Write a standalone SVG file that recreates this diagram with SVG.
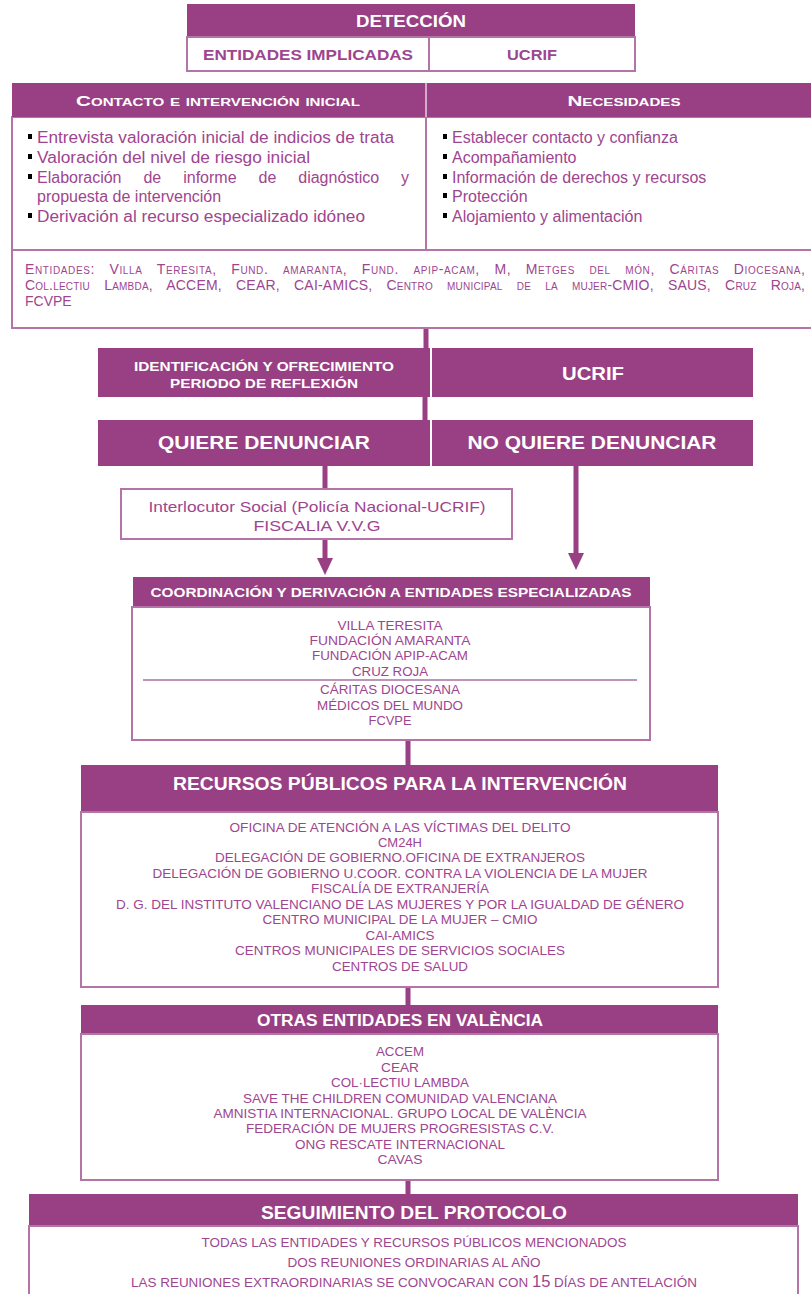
<svg xmlns="http://www.w3.org/2000/svg" width="811" height="1294" viewBox="0 0 811 1294">
<defs>
<style>
.hd{fill:#993F84}
.bx{fill:#fff;stroke:#B574A8;stroke-width:2}
.wt{fill:#fff;font-family:"Liberation Sans Narrow","Liberation Sans",Arial,sans-serif;font-weight:bold;text-anchor:middle}
.pt{fill:#9E4590;font-family:"Liberation Sans Narrow","Liberation Sans",Arial,sans-serif;text-anchor:middle}
.pb{fill:#9E4590;font-family:"Liberation Sans",Arial,sans-serif;font-size:16px}
.sc{fill:#9E4590;font-family:"Liberation Sans",Arial,sans-serif;font-size:14px;font-variant:small-caps;word-spacing:10px}
.cn{stroke:#993F84;stroke-width:5;fill:none}
.bl{fill:#000}
</style>
</defs>

<g id="connectors">
<line class="cn" x1="426" y1="328" x2="426" y2="348"/>
<line class="cn" x1="425" y1="397" x2="425" y2="420"/>
<line class="cn" x1="325" y1="466" x2="325" y2="489"/>
<line class="cn" x1="325" y1="539" x2="325" y2="560"/>
<path d="M317,558 L333,558 L325,575 Z" fill="#993F84"/>
<line class="cn" x1="576" y1="466" x2="576" y2="555"/>
<path d="M568,553 L584,553 L576,570 Z" fill="#993F84"/>
<line class="cn" x1="408" y1="740" x2="408" y2="765"/>
<line class="cn" x1="408" y1="987" x2="408" y2="1005"/>
<line class="cn" x1="408" y1="1180" x2="408" y2="1194"/>
</g>

<g id="deteccion">
<rect class="hd" x="187" y="4" width="448" height="33"/>
<text class="wt" x="411" y="27" font-size="17" textLength="110" lengthAdjust="spacingAndGlyphs">DETECCIÓN</text>
<rect class="bx" x="187" y="37" width="242" height="34"/>
<rect class="bx" x="429" y="37" width="206" height="34"/>
<text class="pt" x="308" y="60" font-size="15" font-weight="bold" textLength="210" lengthAdjust="spacingAndGlyphs">ENTIDADES IMPLICADAS</text>
<text class="pt" x="532" y="60" font-size="15" font-weight="bold" textLength="50" lengthAdjust="spacingAndGlyphs">UCRIF</text>
</g>

<g id="contacto">
<rect class="bx" x="12" y="117" width="802" height="211"/>
<line x1="426" y1="117" x2="426" y2="250" stroke="#B574A8" stroke-width="2"/>
<line x1="12" y1="250" x2="812" y2="250" stroke="#B574A8" stroke-width="2"/>
<rect class="hd" x="12" y="83" width="802" height="34"/>
<line x1="426" y1="83" x2="426" y2="117" stroke="#E8D0E2" stroke-width="1.5"/>
<text class="wt" x="218" y="106" font-size="15" font-variant="small-caps" textLength="284" lengthAdjust="spacingAndGlyphs">Contacto e intervención inicial</text>
<text class="wt" x="624" y="106" font-size="15" font-variant="small-caps" textLength="113" lengthAdjust="spacingAndGlyphs">Necesidades</text>

<rect class="bl" x="28" y="134" width="4" height="5"/>
<rect class="bl" x="28" y="154" width="4" height="5"/>
<rect class="bl" x="28" y="174" width="4" height="5"/>
<rect class="bl" x="28" y="213" width="4" height="5"/>
<text class="pb" x="37" y="142.5" textLength="357" lengthAdjust="spacingAndGlyphs">Entrevista valoración inicial de indicios de trata</text>
<text class="pb" x="37" y="162.5" textLength="273" lengthAdjust="spacingAndGlyphs">Valoración del nivel de riesgo inicial</text>
<text class="pb" x="37" y="182.5" word-spacing="17.5">Elaboración de informe de diagnóstico y</text>
<text class="pb" x="37" y="201.5">propuesta de intervención</text>
<text class="pb" x="37" y="221.5" textLength="328" lengthAdjust="spacingAndGlyphs">Derivación al recurso especializado idóneo</text>

<rect class="bl" x="443" y="134" width="4" height="5"/>
<rect class="bl" x="443" y="154" width="4" height="5"/>
<rect class="bl" x="443" y="174" width="4" height="5"/>
<rect class="bl" x="443" y="193" width="4" height="5"/>
<rect class="bl" x="443" y="213" width="4" height="5"/>
<text class="pb" x="452" y="142.5">Establecer contacto y confianza</text>
<text class="pb" x="452" y="162.5">Acompañamiento</text>
<text class="pb" x="452" y="182.5">Información de derechos y recursos</text>
<text class="pb" x="452" y="201.5">Protección</text>
<text class="pb" x="452" y="221.5">Alojamiento y alimentación</text>

<text class="sc" x="25" y="274" textLength="780" lengthAdjust="spacing">Entidades: Villa Teresita, Fund. amaranta, Fund. apip-acam, M, Metges del món, Cáritas Diocesana,</text>
<text class="sc" x="25" y="290" textLength="780" lengthAdjust="spacing">Col.lectiu Lambda, ACCEM, CEAR, CAI-AMICS, Centro municipal de la mujer-CMIO, SAUS, Cruz Roja,</text>
<text class="sc" x="25" y="306">FCVPE</text>
</g>

<g id="identificacion">
<rect class="hd" x="98" y="348" width="332" height="49"/>
<text class="wt" x="264" y="371" font-size="12.5" textLength="260" lengthAdjust="spacingAndGlyphs">IDENTIFICACIÓN Y OFRECIMIENTO</text>
<text class="wt" x="264" y="388" font-size="12.5" textLength="188" lengthAdjust="spacingAndGlyphs">PERIODO DE REFLEXIÓN</text>
</g>
<g id="ucrif">
<rect class="hd" x="432" y="348" width="321" height="49"/>
<text class="wt" x="593" y="380" font-size="19" textLength="62" lengthAdjust="spacingAndGlyphs">UCRIF</text>
</g>

<g id="quiere">
<rect class="hd" x="98" y="420" width="332" height="46"/>
<text class="wt" x="264" y="449" font-size="19" textLength="212" lengthAdjust="spacingAndGlyphs">QUIERE DENUNCIAR</text>
</g>
<g id="noquiere">
<rect class="hd" x="432" y="420" width="321" height="46"/>
<text class="wt" x="592" y="449" font-size="19" textLength="249" lengthAdjust="spacingAndGlyphs">NO QUIERE DENUNCIAR</text>
</g>

<g id="interlocutor">
<rect class="bx" x="121" y="489" width="391" height="50"/>
<text class="pt" x="317" y="512" font-size="15" textLength="337" lengthAdjust="spacingAndGlyphs">Interlocutor Social (Policía Nacional-UCRIF)</text>
<text class="pt" x="317" y="531" font-size="15" textLength="127" lengthAdjust="spacingAndGlyphs">FISCALIA V.V.G</text>
</g>

<g id="coordinacion">
<rect class="hd" x="133" y="577" width="517" height="30"/>
<text class="wt" x="391" y="597" font-size="13.5" textLength="481" lengthAdjust="spacingAndGlyphs">COORDINACIÓN Y DERIVACIÓN A ENTIDADES ESPECIALIZADAS</text>
<rect class="bx" x="132" y="607" width="518" height="133"/>
<g class="pt" font-size="13">
<text x="390" y="629.5" textLength="105" lengthAdjust="spacingAndGlyphs">VILLA TERESITA</text>
<text x="390" y="644.5" textLength="161" lengthAdjust="spacingAndGlyphs">FUNDACIÓN  AMARANTA</text>
<text x="390" y="660" textLength="156" lengthAdjust="spacingAndGlyphs">FUNDACIÓN APIP-ACAM</text>
<text x="390" y="675.5" textLength="76" lengthAdjust="spacingAndGlyphs">CRUZ ROJA</text>
<text x="390" y="693.5" textLength="140" lengthAdjust="spacingAndGlyphs">CÁRITAS DIOCESANA</text>
<text x="390" y="709.5" textLength="146" lengthAdjust="spacingAndGlyphs">MÉDICOS DEL MUNDO</text>
<text x="390" y="724.5" textLength="43" lengthAdjust="spacingAndGlyphs">FCVPE</text>
</g>
<line x1="143" y1="680" x2="637" y2="680" stroke="#7B2A72" stroke-width="1"/>
</g>

<g id="recursos">
<rect class="hd" x="81" y="765" width="637" height="47"/>
<text class="wt" x="400" y="790" font-size="18" textLength="454" lengthAdjust="spacingAndGlyphs">RECURSOS PÚBLICOS PARA LA INTERVENCIÓN</text>
<rect class="bx" x="81" y="812" width="637" height="175"/>
<g class="pt" font-size="13">
<text x="400" y="831.5" textLength="341" lengthAdjust="spacingAndGlyphs">OFICINA DE ATENCIÓN A LAS VÍCTIMAS DEL DELITO</text>
<text x="400" y="846.5" textLength="44" lengthAdjust="spacingAndGlyphs">CM24H</text>
<text x="400" y="861.5" textLength="370" lengthAdjust="spacingAndGlyphs">DELEGACIÓN DE GOBIERNO.OFICINA DE EXTRANJEROS</text>
<text x="400" y="877.5" textLength="495" lengthAdjust="spacingAndGlyphs">DELEGACIÓN DE GOBIERNO U.COOR. CONTRA LA VIOLENCIA DE LA MUJER</text>
<text x="400" y="892.5" textLength="178" lengthAdjust="spacingAndGlyphs">FISCALÍA DE EXTRANJERÍA</text>
<text x="400" y="908.5" textLength="568" lengthAdjust="spacingAndGlyphs">D. G. DEL INSTITUTO VALENCIANO DE LAS MUJERES Y POR LA IGUALDAD DE GÉNERO</text>
<text x="400" y="923.5" textLength="275" lengthAdjust="spacingAndGlyphs">CENTRO MUNICIPAL DE LA MUJER – CMIO</text>
<text x="400" y="939.5" textLength="69" lengthAdjust="spacingAndGlyphs">CAI-AMICS</text>
<text x="400" y="954.5" textLength="330" lengthAdjust="spacingAndGlyphs">CENTROS MUNICIPALES DE SERVICIOS SOCIALES</text>
<text x="400" y="970.5" textLength="136" lengthAdjust="spacingAndGlyphs">CENTROS DE SALUD</text>
</g>
</g>

<g id="otras">
<rect class="hd" x="81" y="1005" width="637" height="29"/>
<text class="wt" x="400" y="1026" font-size="16" textLength="286" lengthAdjust="spacingAndGlyphs">OTRAS ENTIDADES EN VALÈNCIA</text>
<rect class="bx" x="81" y="1034" width="637" height="146"/>
<g class="pt" font-size="13">
<text x="400" y="1055.5" textLength="48" lengthAdjust="spacingAndGlyphs">ACCEM</text>
<text x="400" y="1071.5" textLength="38" lengthAdjust="spacingAndGlyphs">CEAR</text>
<text x="400" y="1086.5" textLength="138" lengthAdjust="spacingAndGlyphs">COL·LECTIU LAMBDA</text>
<text x="400" y="1102.5" textLength="314" lengthAdjust="spacingAndGlyphs">SAVE THE CHILDREN COMUNIDAD VALENCIANA</text>
<text x="400" y="1117.5" textLength="373" lengthAdjust="spacingAndGlyphs">AMNISTIA INTERNACIONAL. GRUPO LOCAL DE VALÈNCIA</text>
<text x="400" y="1132.5" textLength="308" lengthAdjust="spacingAndGlyphs">FEDERACIÓN DE MUJERS PROGRESISTAS C.V.</text>
<text x="400" y="1148.5" textLength="210" lengthAdjust="spacingAndGlyphs">ONG RESCATE INTERNACIONAL</text>
<text x="400" y="1163.5" textLength="45" lengthAdjust="spacingAndGlyphs">CAVAS</text>
</g>
</g>

<g id="seguimiento">
<rect class="hd" x="29" y="1194" width="769" height="32"/>
<text class="wt" x="414" y="1219" font-size="18" textLength="306" lengthAdjust="spacingAndGlyphs">SEGUIMIENTO DEL PROTOCOLO</text>
<rect class="bx" x="29" y="1226" width="769" height="80"/>
<g class="pt" font-size="13">
<text x="414" y="1246.5" textLength="425" lengthAdjust="spacingAndGlyphs">TODAS LAS ENTIDADES Y RECURSOS PÚBLICOS MENCIONADOS</text>
<text x="414" y="1266.5" textLength="253" lengthAdjust="spacingAndGlyphs">DOS REUNIONES ORDINARIAS AL AÑO</text>
<text x="414" y="1286.5" textLength="566" lengthAdjust="spacingAndGlyphs">LAS REUNIONES EXTRAORDINARIAS SE CONVOCARAN CON <tspan font-size="16" font-family="Liberation Sans, sans-serif">15</tspan> DÍAS DE ANTELACIÓN</text>
</g>
</g>
</svg>
